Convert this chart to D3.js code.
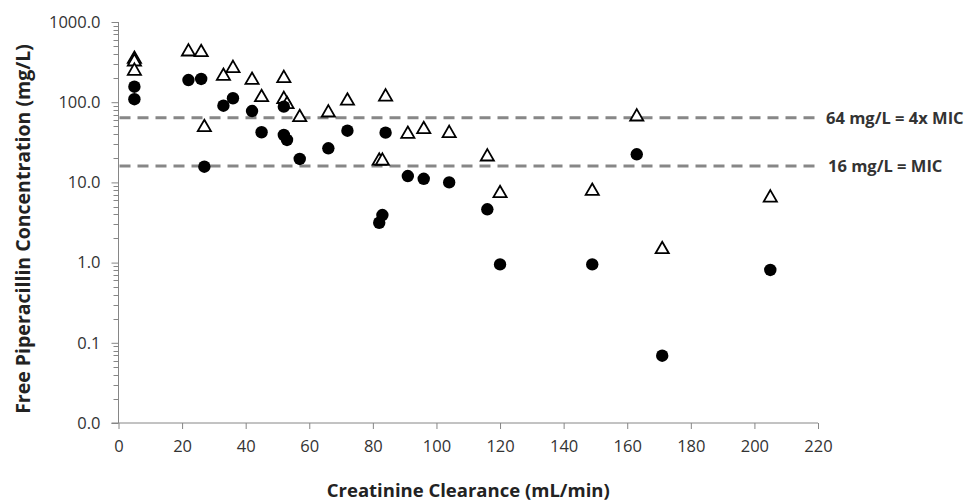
<!DOCTYPE html>
<html>
<head>
<meta charset="utf-8">
<script src="https://cdn.jsdelivr.net/npm/d3@7"></script>
<style>
    body { margin: 0; background: #fff; }
    svg text { font-family: "Open Sans", "Noto Sans", sans-serif; }
</style>
</head>
<body>
<div id="body"></div>
<script>
// creatinine clearance (mL/min) and free piperacillin concentration (mg/L)
var triX = [5, 5, 5, 22, 26, 27, 33, 36, 42, 45, 52, 52, 53, 57, 66, 72, 84, 82, 83, 91, 96, 104, 116, 120, 149, 163, 171, 205];
var triY = [345, 320, 245, 426, 419, 48.6, 212, 265, 189, 115, 199, 109, 94, 64.8, 74, 104, 117, 18.6, 18.5, 40.1, 45.9, 41.0, 20.9, 7.3, 7.8, 65.9, 1.46, 6.44];
var dotX = [5, 5, 22, 26, 27, 33, 36, 42, 45, 52, 52, 53, 57, 66, 72, 84, 82, 83, 91, 96, 104, 116, 120, 149, 163, 171, 205];
var dotY = [156, 109, 189, 195, 15.7, 90.4, 112, 77.6, 42.2, 88, 39.0, 33.8, 19.6, 26.6, 44.1, 41.7, 3.14, 3.92, 12.0, 11.1, 10.0, 4.62, 0.95, 0.95, 22.4, 0.069, 0.81];
var xTicks = [0, 20, 40, 60, 80, 100, 120, 140, 160, 180, 200, 220];
var yTicks = [0.01, 0.1, 1, 10, 100, 1000];
var refValues = [64, 16];
var refLabels = ['64 mg/L = 4x MIC', '16 mg/L = MIC'];

var width = 971, height = 503;
var margins = {left: 118.5, right: 153, top: 22, bottom: 80};

var svg = d3.select('#body').append('svg')
    .attr('width', width)
    .attr('height', height);

var x = d3.scaleLinear().domain([0, 220]).range([margins.left, width - margins.right]);
var y = d3.scaleLog().domain([0.01, 1000]).range([height - margins.bottom, margins.top]);

// minor log ticks on the y axis
var minor = [];
for (var e = -2; e < 3; e++) {
    for (var m = 2; m < 10; m++) minor.push(m * Math.pow(10, e));
}
svg.append('g').selectAll('line.minor')
    .data(minor)
    .enter().append('line')
    .attr('x1', margins.left - 5).attr('x2', margins.left)
    .attr('y1', d => Math.round(y(d)) + 0.5).attr('y2', d => Math.round(y(d)) + 0.5)
    .attr('stroke', '#868686');

var yAxis = svg.append('g')
    .attr('transform', `translate(${margins.left},0)`)
    .call(d3.axisLeft(y).tickValues(yTicks).tickFormat(d3.format('.1f')).tickSize(7).tickPadding(11));
var xAxis = svg.append('g')
    .attr('transform', `translate(0,${height - margins.bottom})`)
    .call(d3.axisBottom(x).tickValues(xTicks).tickSize(6).tickPadding(11).tickSizeOuter(0));

[xAxis, yAxis].forEach(function(a) {
    a.select('.domain').attr('stroke', '#868686');
    a.selectAll('.tick line').attr('stroke', '#868686');
    a.selectAll('.tick text').attr('fill', '#333').style('font-size', '16.5px');
});
yAxis.select('.domain').attr('d', `M0,${y(1000)}V${y(0.01)}`);
xAxis.select('.domain').attr('d', `M${x(0) - 7},0H${x(220)}`);

// reference lines
svg.append('g').selectAll('line.ref')
    .data(refValues)
    .enter().append('line')
    .attr('x1', x(0) + 1).attr('x2', x(220))
    .attr('y1', d => y(d)).attr('y2', d => y(d))
    .attr('stroke', '#878787')
    .attr('stroke-width', 3)
    .attr('stroke-dasharray', '11,7');
svg.append('g').selectAll('text.ref')
    .data(refValues)
    .enter().append('text')
    .attr('x', d => d === 64 ? 826 : 828)
    .attr('y', d => y(d) + 6)
    .attr('fill', '#333')
    .style('font-size', '16.5px')
    .style('font-weight', 'bold')
    .text((d, i) => refLabels[i]);

// triangles
svg.append('g').selectAll('path.tri')
    .data(triX)
    .enter().append('path')
    .attr('d', d3.symbol().type(d3.symbolTriangle).size(75))
    .attr('transform', (d, i) => `translate(${x(d)},${y(triY[i])})`)
    .attr('fill', '#fff')
    .attr('stroke', '#000')
    .attr('stroke-width', 1.8);

// filled circles
svg.append('g').selectAll('circle.dot')
    .data(dotX)
    .enter().append('circle')
    .attr('cx', d => x(d))
    .attr('cy', (d, i) => y(dotY[i]))
    .attr('r', 6.2)
    .attr('fill', '#000');

svg.append('text')
    .attr('x', x(110))
    .attr('y', 497)
    .attr('text-anchor', 'middle')
    .attr('fill', '#222')
    .style('font-size', '18.5px')
    .style('font-weight', 'bold')
    .text('Creatinine Clearance (mL/min)');
svg.append('text')
    .attr('transform', `translate(30,229) rotate(-90)`)
    .attr('text-anchor', 'middle')
    .attr('fill', '#222')
    .style('font-size', '19.5px')
    .style('font-weight', 'bold')
    .text('Free Piperacillin Concentration (mg/L)');
</script>
</body>
</html>
